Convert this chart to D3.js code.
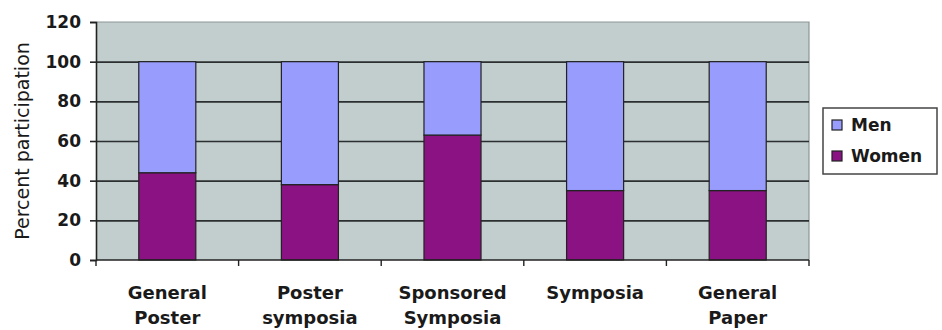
<!DOCTYPE html>
<html>
<head>
<meta charset="utf-8">
<script src="https://cdn.jsdelivr.net/npm/d3@7"></script>
<style>
  body { margin: 0; background: #fff; }
  svg text { font-family: "DejaVu Sans", sans-serif; fill: #1a1a1a; }
  .axis path, .axis line { stroke: #222; }
</style>
</head>
<body>
<div id="chart"></div>
<script>
// chart size
var width = 942,
    height = 330;

// plot area box
var margin = { top: 22, right: 133, bottom: 70, left: 96 };

// data
var categories = ["General\nPoster", "Poster\nsymposia", "Sponsored\nSymposia", "Symposia", "General\nPaper"];
var women = [44, 38, 63, 35, 35];
var men = [56, 62, 37, 65, 65];
var seriesNames = ["Women", "Men"];
var yTicks = [0, 20, 40, 60, 80, 100, 120];

var colors = { Men: "#979cfd", Women: "#8a1282" };

var svg = d3.select("#chart").append("svg")
    .attr("width", width)
    .attr("height", height);

var plotW = width - margin.left - margin.right,
    plotH = height - margin.top - margin.bottom;

var g = svg.append("g")
    .attr("transform", "translate(" + margin.left + "," + margin.top + ")");

// scales
var xCat = d3.scaleBand().domain(categories).range([0, plotW]);
var x = d3.scaleBand().domain(categories).range([0, plotW])
    .paddingInner(0.6).paddingOuter(0.3);
var y = d3.scaleLinear().domain([0, 120]).range([plotH, 0]);

// background
g.append("rect")
    .attr("width", plotW)
    .attr("height", plotH)
    .attr("fill", "#c2cdcd");

// top + right border
g.append("path")
    .attr("d", "M0,0H" + plotW + "V" + plotH)
    .attr("fill", "none")
    .attr("stroke", "#8c9595")
    .attr("stroke-width", 1.2);

// gridlines
g.append("g")
    .attr("class", "grid")
    .call(d3.axisLeft(y).tickValues(yTicks.filter(function(v) { return v > 0 && v < 120; }))
        .tickSize(-plotW).tickFormat(""))
    .call(function(s) { s.select(".domain").remove(); })
    .selectAll("line")
    .attr("stroke", "#2b2f2f")
    .attr("stroke-width", 1.6);

// stacked bars
var rows = categories.map(function(c, i) {
  return { cat: c, Women: women[i], Men: men[i] };
});
var stacked = d3.stack().keys(seriesNames)(rows);

g.selectAll(".series")
    .data(stacked)
    .enter().append("g")
    .attr("class", "series")
    .attr("fill", function(d) { return colors[d.key]; })
    .selectAll("rect")
    .data(function(d) { return d; })
    .enter().append("rect")
    .attr("x", function(d) { return x(d.data.cat); })
    .attr("y", function(d) { return y(d[1]); })
    .attr("width", x.bandwidth())
    .attr("height", function(d) { return y(d[0]) - y(d[1]); })
    .attr("stroke", "#222")
    .attr("stroke-width", 1.2);

// y axis
var yAxis = g.append("g")
    .attr("class", "axis")
    .call(d3.axisLeft(y).tickValues(yTicks).tickSize(6).tickPadding(9));
yAxis.select(".domain").attr("stroke-width", 1.6);
yAxis.selectAll("line").attr("stroke-width", 1.6);
yAxis.selectAll("text")
    .attr("font-size", 17)
    .attr("font-weight", "bold")
    .style("font-family", "DejaVu Sans, sans-serif")
    .attr("fill", "#1a1a1a");

// x axis: ticks on category boundaries
var xAxis = g.append("g")
    .attr("class", "axis")
    .attr("transform", "translate(0," + plotH + ")");
xAxis.append("line")
    .attr("x1", 0).attr("x2", plotW)
    .attr("stroke", "#222")
    .attr("stroke-width", 1.6);
var bounds = categories.map(function(c) { return xCat(c); }).concat([plotW]);
xAxis.selectAll(".tick")
    .data(bounds)
    .enter().append("line")
    .attr("x1", function(d) { return d; })
    .attr("x2", function(d) { return d; })
    .attr("y1", 0).attr("y2", 6)
    .attr("stroke", "#222")
    .attr("stroke-width", 1.4);

// category labels
var labels = xAxis.selectAll(".cat")
    .data(categories)
    .enter().append("text")
    .attr("class", "cat")
    .attr("text-anchor", "middle")
    .attr("font-size", 18)
    .attr("font-weight", "bold");
labels.selectAll("tspan")
    .data(function(d) { return d.split("\n").map(function(t) { return { t: t, c: d }; }); })
    .enter().append("tspan")
    .attr("x", function(d) { return xCat(d.c) + xCat.bandwidth() / 2; })
    .attr("y", function(d, i) { return 39 + i * 25; })
    .text(function(d) { return d.t; });

// y axis title
svg.append("text")
    .attr("transform", "translate(29," + (margin.top + 119) + ") rotate(-90)")
    .attr("text-anchor", "middle")
    .attr("font-size", 19)
    .text("Percent participation");

// legend
var legend = svg.append("g")
    .attr("transform", "translate(823,108)");
legend.append("rect")
    .attr("width", 114)
    .attr("height", 66)
    .attr("fill", "#fff")
    .attr("stroke", "#444")
    .attr("stroke-width", 1.5);
var items = legend.selectAll(".item")
    .data(["Men", "Women"])
    .enter().append("g")
    .attr("transform", function(d, i) { return "translate(9," + (12 + i * 31) + ")"; });
items.append("rect")
    .attr("width", 10)
    .attr("height", 10)
    .attr("fill", function(d) { return colors[d]; })
    .attr("stroke", "#222")
    .attr("stroke-width", 1.2);
items.append("text")
    .attr("x", 19)
    .attr("y", 11)
    .attr("font-size", 17)
    .attr("font-weight", "bold")
    .text(function(d) { return d; });
</script>
</body>
</html>
